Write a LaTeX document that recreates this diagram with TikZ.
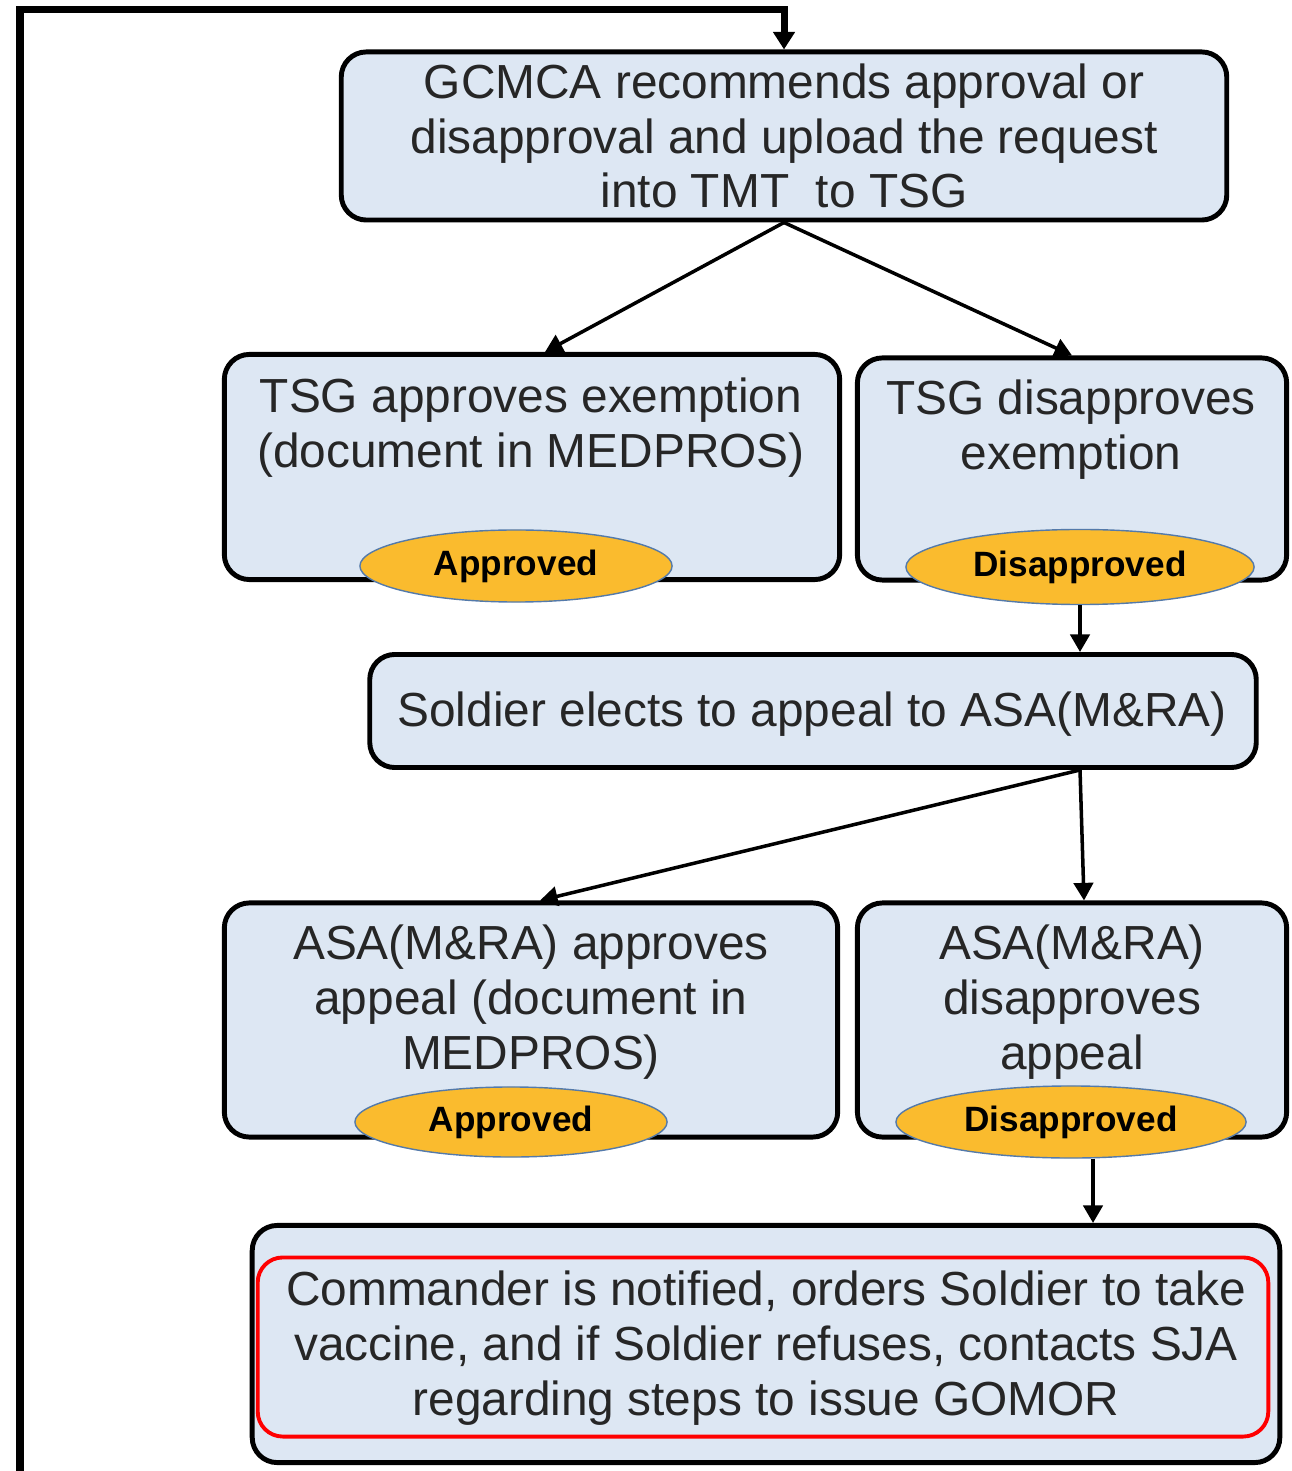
\documentclass[tikz,border=0pt]{standalone}
\usepackage{fontspec}
\setmainfont{Liberation Sans}
\usepackage{tikz}
\usetikzlibrary{shapes.geometric, arrows.meta, positioning, calc}
\definecolor{boxfill}{RGB}{221,231,243}
\definecolor{ovalfill}{RGB}{250,187,46}
\definecolor{ovalline}{RGB}{84,122,170}
\definecolor{txtgray}{RGB}{38,38,38}
\definecolor{alertred}{RGB}{255,0,0}
\tikzset{
  box/.style={rectangle, draw=black, fill=boxfill, rounded corners=0.25cm,
    line width=1.4pt, inner sep=0pt},
  boxtxt/.style={align=center, font=\fontsize{13.6}{15.6}\selectfont,
    text=txtgray, inner sep=0pt},
  redframe/.style={rectangle, draw=alertred, rounded corners=0.25cm,
    line width=1.1pt, inner sep=0pt},
  oval/.style={ellipse, draw=ovalline, fill=ovalfill, line width=0.4pt,
    inner sep=0pt, font=\fontsize{10}{12}\selectfont\bfseries},
  arrow/.style={-{Triangle[width=5.5pt,length=5pt]}, line width=1pt},
  backarrow/.style={-{Triangle[width=6pt,length=5pt]}, line width=2pt}
}
\begin{document}
\begin{tikzpicture}[x=0.01cm, y=-0.01cm]
  \useasboundingbox (0,0) rectangle (1291,1471);
  % GCMCA step
  \node[box, boxtxt, minimum width=8.85cm, minimum height=1.68cm] (gcmca) at (784,136)
    {GCMCA recommends approval or\\disapproval and upload the request\\into TMT\ \ to TSG};
  % TSG decision
  \node[box, minimum width=6.15cm, minimum height=2.25cm] (tsgA) at (532,467) {};
  \node[boxtxt] (tsgAtxt) at (531,428) {TSG approves exemption\\(document in MEDPROS)};
  \node[oval, minimum width=3.12cm, minimum height=0.72cm] (tsgAok) at (516,566) {Approved};
  \node[box, minimum width=4.29cm, minimum height=2.22cm] (tsgD) at (1072,469) {};
  \node[boxtxt] (tsgDtxt) at (1071,430) {TSG disapproves\\exemption};
  \node[oval, minimum width=3.48cm, minimum height=0.75cm] (tsgDno) at (1080,567) {Disapproved};
  % Appeal
  \node[box, minimum width=8.86cm, minimum height=1.13cm] (soldier) at (813,711) {};
  \node[boxtxt] (soldiertxt) at (812,714) {Soldier elects to appeal to ASA(M\&RA)};
  % ASA(M&RA) decision
  \node[box, minimum width=6.13cm, minimum height=2.34cm] (asaA) at (531,1020) {};
  \node[boxtxt] (asaAtxt) at (531,1002) {ASA(M\&RA) approves\\appeal (document in\\MEDPROS)};
  \node[oval, minimum width=3.12cm, minimum height=0.70cm] (asaAok) at (511,1122) {Approved};
  \node[box, minimum width=4.29cm, minimum height=2.34cm] (asaD) at (1072,1020) {};
  \node[boxtxt] (asaDtxt) at (1072,1002) {ASA(M\&RA)\\disapproves\\appeal};
  \node[oval, minimum width=3.50cm, minimum height=0.72cm] (asaDno) at (1071,1122) {Disapproved};
  % Commander
  \node[box, minimum width=10.27cm, minimum height=2.37cm] (cmd) at (766,1344) {};
  \node[redframe, minimum width=10.10cm, minimum height=1.79cm] (cmdframe) at (763,1347) {};
  \node[boxtxt] (cmdtxt) at (766,1348)
    {Commander is notified, orders Soldier to take\\vaccine, and if Soldier refuses, contacts SJA\\regarding steps to issue GOMOR};
  % connectors
  \draw[arrow] (gcmca.south) -- ($(tsgA.north)+(13,0)$);
  \draw[arrow] (gcmca.south) -- (tsgD.north);
  \draw[arrow] (tsgDno.south) -- (tsgDno.south |- soldier.north);
  \coordinate (fork) at (tsgDno.south |- soldier.south);
  \draw[arrow] (fork) -- ($(asaA.north)+(9,0)$);
  \draw[arrow] (fork) -- ($(asaD.north)+(12,0)$);
  \draw[arrow] ($(asaDno.south)+(22,0)$) -- ($(asaDno.south |- cmd.north)+(22,0)$);
  % back to GCMCA
  \coordinate (fbstart) at (20,1480);
  \coordinate (fbtop) at (784,10);
  \draw[backarrow] (fbstart) |- (fbtop) -- (gcmca.north);
\end{tikzpicture}
\end{document}
